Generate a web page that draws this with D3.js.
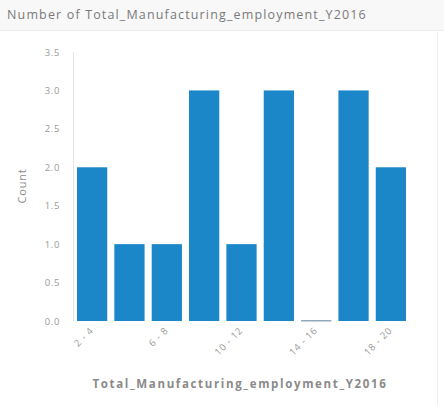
<!DOCTYPE html>
<html><head><meta charset="utf-8">
<script src="https://cdn.jsdelivr.net/npm/d3@7"></script>
<style>
html,body{margin:0;padding:0;background:#fff;}
svg{display:block;font-family:"Open Sans",Lato,sans-serif;}
</style></head>
<body>
<svg id="c" width="444" height="405"></svg>
<script>
const categories = ["2 - 4","4 - 6","6 - 8","8 - 10","10 - 12","12 - 14","14 - 16","16 - 18","18 - 20"];
const counts = [2,1,1,3,1,3,0,3,2];
const yTicks = [0,0.5,1,1.5,2,2.5,3,3.5];
const shownLabels = ["2 - 4","6 - 8","10 - 12","14 - 16","18 - 20"];
const title = "Number of Total_Manufacturing_employment_Y2016";
const xTitle = "Total_Manufacturing_employment_Y2016";
const yTitle = "Count";

const svg = d3.select("#c");
// header
svg.append("rect").attr("x",0).attr("y",0).attr("width",444).attr("height",30).attr("fill","#f8f8f8");
svg.append("line").attr("x1",0).attr("x2",444).attr("y1",30.5).attr("y2",30.5).attr("stroke","#ececec");
svg.append("line").attr("x1",437.5).attr("x2",437.5).attr("y1",31).attr("y2",405).attr("stroke","#f0f0f0");
svg.append("text").attr("x",7).attr("y",19).attr("font-size",12.5).attr("letter-spacing",1.15)
  .attr("fill","#7a7a7a").text(title);

const m = {left:74, right:409, top:52, bottom:321};
const x = d3.scaleBand().domain(categories).range([m.left, m.right]).paddingInner(0.19).paddingOuter(0.08);
const y = d3.scaleLinear().domain([0,3.5]).range([m.bottom, m.top]);

// y axis
svg.append("line").attr("x1",m.left-0.5).attr("x2",m.left-0.5).attr("y1",m.top).attr("y2",m.bottom).attr("stroke","#e2e2e2");
svg.selectAll(".yt").data(yTicks).join("text")
  .attr("x",60).attr("y",d=>y(d)+3.5).attr("text-anchor","end")
  .attr("font-size",9.5).attr("letter-spacing",0.6).attr("fill","#9a9a9a").text(d=>d.toFixed(1));

// bars
svg.selectAll(".bar").data(categories).join("rect")
  .attr("x",d=>x(d)).attr("width",x.bandwidth())
  .attr("y",(d,i)=>counts[i]===0? y(0)-1 : y(counts[i]))
  .attr("height",(d,i)=>counts[i]===0? 1.5 : y(0)-y(counts[i]))
  .attr("fill",(d,i)=>counts[i]===0? "#8fa8bb" : "#1b86c8");

// x labels
svg.selectAll(".xt").data(shownLabels).join("text")
  .attr("transform",d=>`translate(${x(d)+x.bandwidth()/2+2},${m.bottom+10}) rotate(-45)`)
  .attr("text-anchor","end").attr("font-size",9.5).attr("letter-spacing",0.8).attr("fill","#9a9a9a").text(d=>d);

svg.append("text").attr("x",240).attr("y",388).attr("text-anchor","middle")
  .attr("font-size",11.5).attr("letter-spacing",1.65).attr("font-weight","bold").attr("fill","#8a8a8a").text(xTitle);
svg.append("text").attr("transform","translate(26,186) rotate(-90)").attr("text-anchor","middle")
  .attr("font-size",11).attr("letter-spacing",0.8).attr("fill","#8a8a8a").text(yTitle);
</script>
</body></html>
